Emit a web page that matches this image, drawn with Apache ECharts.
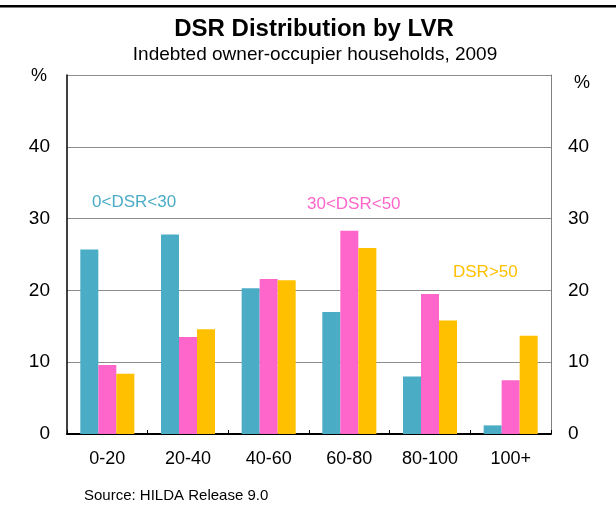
<!DOCTYPE html>
<html>
<head>
<meta charset="utf-8">
<script src="https://cdn.jsdelivr.net/npm/echarts@6/dist/echarts.min.js"></script>
<style>
html,body{margin:0;padding:0;background:#fff;}
#chart{width:616px;height:518px;}
</style>
</head>
<body>
<div id="chart"></div>
<script>
var categories = ['0-20', '20-40', '40-60', '60-80', '80-100', '100+'];
var dsrLow = [25.7, 27.8, 20.3, 17.0, 8.0, 1.2];
var dsrMid = [9.6, 13.5, 21.6, 28.3, 19.5, 7.5];
var dsrHigh = [8.4, 14.6, 21.4, 25.9, 15.8, 13.7];
var seriesNames = ['0<DSR<30', '30<DSR<50', 'DSR>50'];
var yTicks = [0, 10, 20, 30, 40, 50];

var FONT = '"Liberation Sans", Arial, sans-serif';
var colors = ['#4BACC6', '#FF66CC', '#FFC000'];

var chart = echarts.init(document.getElementById('chart'), null, {renderer: 'canvas'});

function yAxisCfg(pos, lineColor, lineWidth, split) {
  return {
    type: 'value',
    position: pos,
    min: yTicks[0],
    max: yTicks[yTicks.length - 1],
    interval: yTicks[1] - yTicks[0],
    axisLine: {show: true, lineStyle: {color: lineColor, width: lineWidth}},
    axisTick: {show: false},
    axisLabel: {
      show: true, showMaxLabel: false, margin: 17,
      color: '#000', fontFamily: FONT, fontSize: 19
    },
    splitLine: {show: split, lineStyle: {color: '#8c8c8c', width: 1}}
  };
}

var option = {
  animation: false,
  backgroundColor: '#fff',
  grid: {left: 67, right: 65, top: 75, bottom: 84, containLabel: false},
  xAxis: {
    type: 'category',
    data: categories,
    boundaryGap: true,
    axisLine: {show: true, lineStyle: {color: '#000', width: 2}},
    axisTick: {show: true, inside: true, length: 4, lineStyle: {color: '#000', width: 1}},
    axisLabel: {color: '#000', fontFamily: FONT, fontSize: 18, margin: 16}
  },
  yAxis: [
    yAxisCfg('left', '#000', 1.5, true),
    yAxisCfg('right', '#808080', 1, false)
  ],
  series: [
    {name: seriesNames[0], type: 'bar', data: dsrLow, barGap: '0%', barCategoryGap: '33%',
     itemStyle: {color: colors[0]}},
    {name: seriesNames[1], type: 'bar', data: dsrMid, barGap: '0%', barCategoryGap: '33%',
     itemStyle: {color: colors[1]}},
    {name: seriesNames[2], type: 'bar', data: dsrHigh, barGap: '0%', barCategoryGap: '33%',
     itemStyle: {color: colors[2]}}
  ],
  graphic: [
    {type: 'rect', left: 0, top: 5, shape: {width: 616, height: 2.5}, style: {fill: '#000'}},
    {type: 'text', x: 314, y: 29, style: {text: 'DSR Distribution by LVR', font: 'bold 24px ' + FONT, fill: '#000', textAlign: 'center', textVerticalAlign: 'middle'}},
    {type: 'text', x: 315, y: 55, style: {text: 'Indebted owner-occupier households, 2009', font: '19px ' + FONT, fill: '#000', textAlign: 'center', textVerticalAlign: 'middle'}},
    {type: 'text', x: 39, y: 76, style: {text: '%', font: '18px ' + FONT, fill: '#000', textAlign: 'center', textVerticalAlign: 'middle'}},
    {type: 'text', x: 582, y: 83, style: {text: '%', font: '18px ' + FONT, fill: '#000', textAlign: 'center', textVerticalAlign: 'middle'}},
    {type: 'text', x: 92, y: 202, style: {text: seriesNames[0], font: '17px ' + FONT, fill: colors[0], textAlign: 'left', textVerticalAlign: 'middle'}},
    {type: 'text', x: 307, y: 204, style: {text: seriesNames[1], font: '17px ' + FONT, fill: colors[1], textAlign: 'left', textVerticalAlign: 'middle'}},
    {type: 'text', x: 453, y: 272, style: {text: seriesNames[2], font: '17px ' + FONT, fill: colors[2], textAlign: 'left', textVerticalAlign: 'middle'}},
    {type: 'text', x: 84, y: 496, style: {text: 'Source: HILDA Release 9.0', font: '15px ' + FONT, fill: '#000', textAlign: 'left', textVerticalAlign: 'middle'}}
  ]
};
chart.setOption(option);
</script>
</body>
</html>
